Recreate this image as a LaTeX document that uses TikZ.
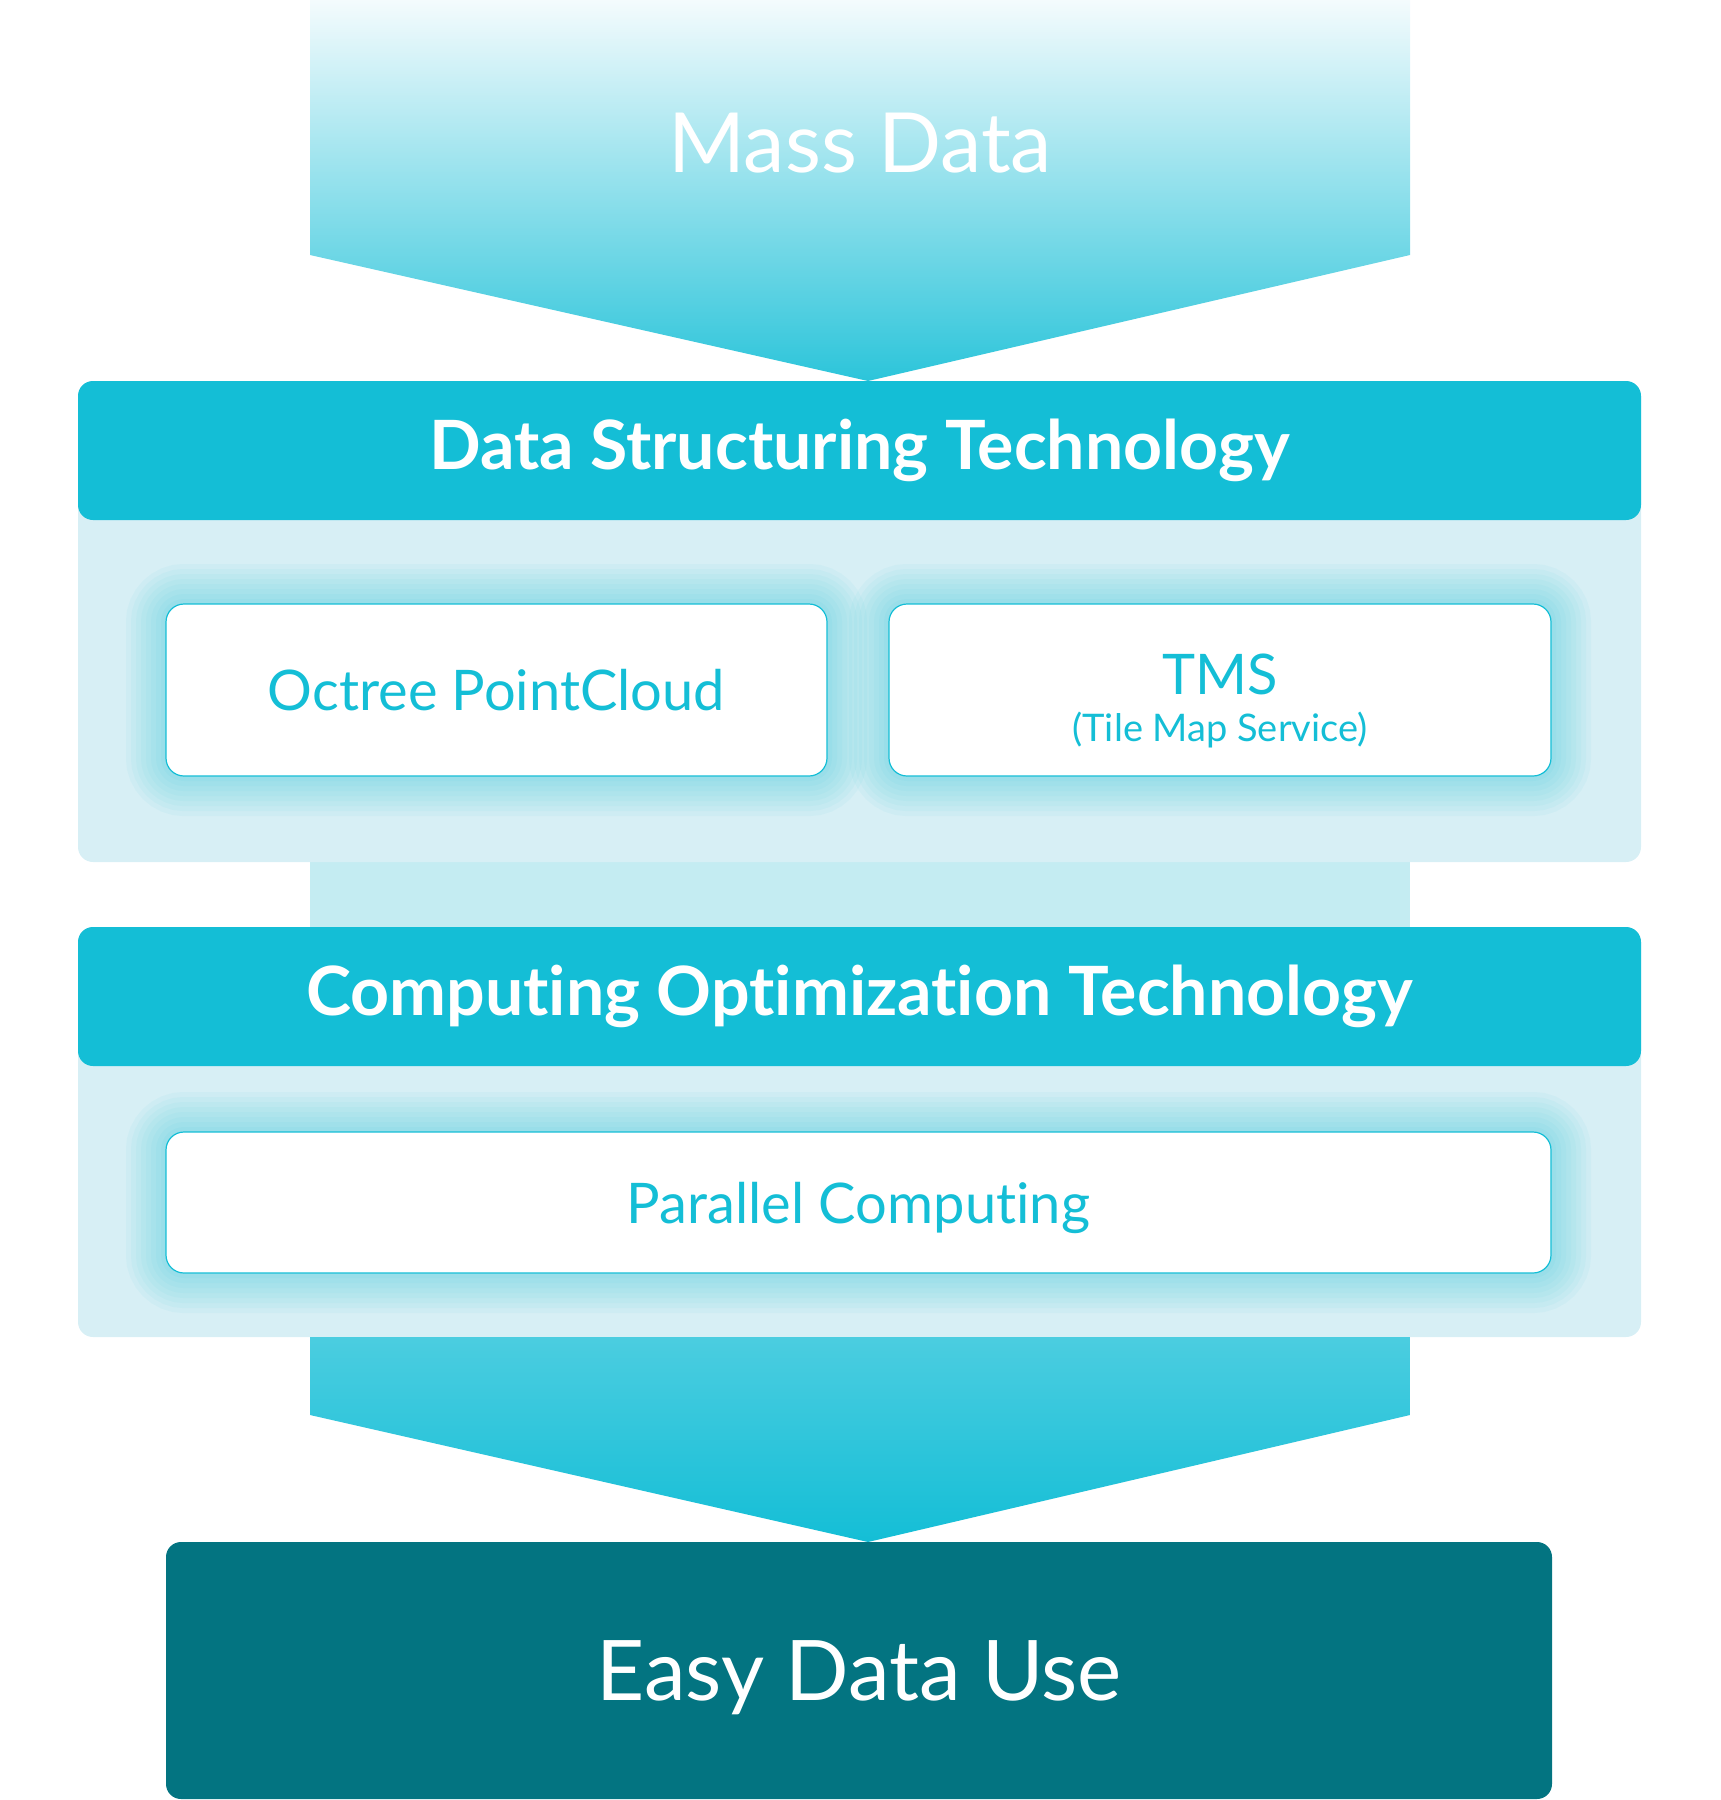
\documentclass[tikz,border=0pt]{standalone}
\usepackage{fontspec}
\setmainfont{Lato}[Ligatures=NoCommon]
\usetikzlibrary{positioning}

\definecolor{techcyan}{HTML}{14BED6}
\definecolor{panelcyan}{HTML}{D7EFF5}
\definecolor{bandcyan}{HTML}{C4ECF2}
\definecolor{easyteal}{HTML}{037481}
\definecolor{masstop}{HTML}{F4FBFD}
\definecolor{massmid}{HTML}{A4E5EE}
\definecolor{flowtop}{HTML}{4BCDE0}

\tikzset{
  panel/.style={fill=panelcyan, rounded corners=7.5pt},
  header/.style={fill=techcyan, rounded corners=7.5pt, inner sep=0pt,
    minimum width=781.5pt, minimum height=69.5pt, text=white,
    font=\fontsize{34}{40}\selectfont\bfseries},
  glow/.style={preaction={draw=techcyan, draw opacity=0.045, line width=#1}},
  itembox/.style={draw=techcyan, line width=0.6pt, fill=white,
    rounded corners=9pt, inner sep=0pt, minimum height=86pt,
    text=techcyan, font=\fontsize{28}{23.5}\selectfont,
    glow=40pt, glow=35pt, glow=30pt, glow=25pt,
    glow=20pt, glow=15pt, glow=10pt, glow=5pt},
  easybox/.style={fill=easyteal, rounded corners=7.5pt, inner sep=0pt,
    minimum width=693pt, minimum height=128.5pt, text=white,
    font=\fontsize{41.8}{50}\selectfont},
}

\begin{document}
\begin{tikzpicture}[x=0.5pt,y=-0.5pt]
    \useasboundingbox (0,0) rectangle (1720,1800);

    % Incoming arrow
    \shade[top color=masstop, middle color=massmid, bottom color=techcyan!90!white]
        (310,0) -- (1410,0) -- (1410,255) -- (868,381) -- (310,255) -- cycle;
    \node[text=white, font=\fontsize{41.5}{50}\selectfont] (mass) at (860,143) {Mass Data};

    % Band between the two panels
    \fill[bandcyan] (310,850) rectangle (1410,940);

    % Panels
    \fill[panel] (78,381) rectangle (1641,862);
    \fill[panel] (78,927) rectangle (1641,1337);

    % Outgoing arrow
    \shade[top color=flowtop, bottom color=techcyan]
        (310,1337) -- (1410,1337) -- (1410,1415) -- (868,1542) -- (310,1415) -- cycle;

    % Headers
    \node[header] (structuring) at (859.5,450.5) {Data Structuring Technology};
    \node[header] (computing) at (859.5,996.5) {Computing Optimization Technology};

    % Items
    \node[itembox, minimum width=330.5pt] (octree) at (496.5,690) {Octree PointCloud};
    \node[itembox, minimum width=331pt, align=center] (tms) at (1220,690)
        {\rule{0pt}{31.5pt}TMS\\{\fontsize{19}{23.5}\selectfont (Tile Map Service)}};
    \node[itembox, minimum width=692.5pt, minimum height=70.5pt, text depth=0pt] (parallel) at (858.5,1202.5) {Parallel Computing};

    % Result
    \node[easybox, text depth=0pt] (easy) at (859,1670.5) {Easy Data Use};
\end{tikzpicture}
\end{document}
